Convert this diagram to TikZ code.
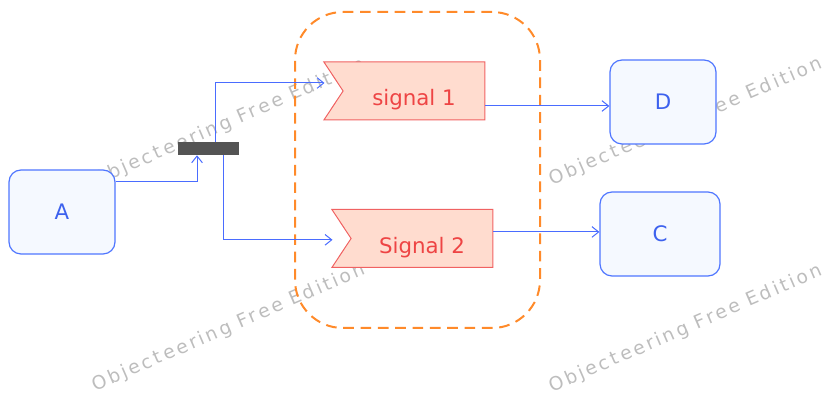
\documentclass[tikz,border=0pt]{standalone}
\usepackage{fontspec}
\usepackage{xcolor}
\setmainfont{DejaVu Sans}
\newfontfamily\wmfont[LetterSpace=14.5]{DejaVu Sans}
\usetikzlibrary{arrows.meta,shapes.symbols}

\definecolor{boxline}{HTML}{4F76FF}
\definecolor{boxfill}{HTML}{F5F9FF}
\definecolor{boxtext}{HTML}{3D62EE}
\definecolor{sigline}{HTML}{F06262}
\definecolor{sigfill}{HTML}{FFDCCF}
\definecolor{sigtext}{HTML}{EE4444}
\definecolor{flowline}{HTML}{4A6CFF}
\definecolor{regionline}{HTML}{FF8A2A}
\definecolor{wmgray}{HTML}{BDBDBD}

\tikzset{
    state/.style={draw=boxline, line width=0.9pt, fill=boxfill, text=boxtext, rounded corners=9pt,
        minimum width=79.5pt, minimum height=63pt, font=\fontsize{16}{19}\selectfont},
    sigrecv/.style={signal, signal to=nowhere, signal from=west, signal pointer angle=113,
        draw=sigline, line width=0.75pt, fill=sigfill, text=sigtext, minimum width=120.75pt, minimum height=43.5pt,
        text height=22.5pt, text depth=0pt, font=\fontsize{16}{19}\selectfont},
    flow/.style={draw=flowline, line width=0.75pt, -{Straight Barb[length=5pt,width=8pt]}},
    watermark/.style={text=wmgray, rotate=23.5, font=\wmfont\fontsize{14}{16}\selectfont},
}

\begin{document}
\begin{tikzpicture}[x=0.75pt, y=-0.75pt]
                \useasboundingbox (0, 0) rectangle (829, 398);

                % watermarks, under everything
                \node[watermark] (wm1) at (229, 123) {Objecteering Free Edition};
                \node[watermark] (wm2) at (229, 328) {Objecteering Free Edition};
                \node[watermark] (wm3) at (686, 122) {Objecteering Free Edition};
                \node[watermark] (wm4) at (686, 329) {Objecteering Free Edition};

                \node[draw=regionline, line width=1.5pt, dash pattern=on 8pt off 5pt,
                    rounded corners=36pt, minimum width=183.75pt, minimum height=237pt] (region) at (417.5, 170) {};

                \node[state] (A) at (62, 212) {A};
                \node[fill=black!67, minimum width=45.75pt, minimum height=9.75pt, inner sep=0pt] (fork) at (208.5, 148.5) {};
                \node[sigrecv] (sig1) at (414, 91) {signal 1};
                \node[sigrecv] (sig2) at (422, 238.5) {Signal 2};
                \node[state] (D) at (663, 102) {D};
                \node[state, minimum width=90pt] (C) at (660, 234) {C};

                \draw[flow] ([yshift=22.5pt]A.east) -| ([xshift=-8.6pt]fork.south);
                \draw[flow] ([xshift=4.9pt]fork.north) |- ([xshift=-13.5pt, yshift=6pt]sig1.west);
                \draw[flow] ([xshift=11.6pt]fork.south) |- ([xshift=-13.5pt, yshift=-1pt]sig2.west);
                \draw[flow] ([yshift=-11.25pt]sig1.east) coordinate (s1out) -- (s1out -| D.west);
                \draw[flow] ([yshift=4.9pt]sig2.east) coordinate (s2out) -- (s2out -| C.west);
            \end{tikzpicture}
\end{document}
